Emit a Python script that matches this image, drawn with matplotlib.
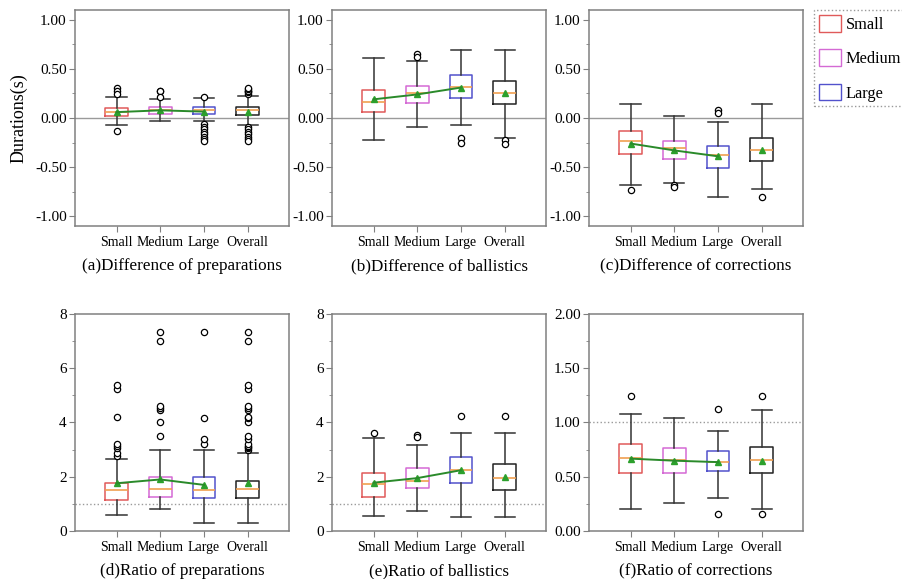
import matplotlib
matplotlib.use("Agg")
import matplotlib.pyplot as plt
from matplotlib.patches import Patch
from matplotlib.ticker import MultipleLocator, FormatStrFormatter

plt.rcParams['font.family'] = ['Liberation Serif', 'DejaVu Serif']

groups = ["Small", "Medium", "Large", "Overall"]

# per panel: quartiles, whisker ends, mean and outliers for each group
a_q1 = [0.017, 0.037, 0.040, 0.027]
a_med = [0.058, 0.080, 0.080, 0.080]
a_q3 = [0.098, 0.108, 0.108, 0.108]
a_lo = [-0.07, -0.034, -0.035, -0.07]
a_hi = [0.21, 0.19, 0.20, 0.22]
a_mean = [0.060, 0.078, 0.065, 0.060]
a_fl = [[0.31, 0.28, 0.24, -0.13],
        [0.28, 0.27, 0.21],
        [0.21, -0.06, -0.09, -0.11, -0.14, -0.16, -0.19, -0.21, -0.23],
        [0.24, 0.26, 0.27, 0.28, 0.30, 0.31, -0.09, -0.11, -0.14, -0.16, -0.19, -0.21, -0.23]]

b_q1 = [0.058, 0.15, 0.207, 0.14]
b_med = [0.167, 0.25, 0.32, 0.255]
b_q3 = [0.286, 0.33, 0.44, 0.38]
b_lo = [-0.225, -0.09, -0.068, -0.20]
b_hi = [0.61, 0.58, 0.69, 0.69]
b_mean = [0.19, 0.24, 0.31, 0.25]
b_fl = [[], [0.65, 0.62], [-0.20, -0.25], [-0.225, -0.26]]

c_q1 = [-0.37, -0.42, -0.51, -0.435]
c_med = [-0.235, -0.31, -0.38, -0.326]
c_q3 = [-0.136, -0.23, -0.29, -0.20]
c_lo = [-0.68, -0.66, -0.80, -0.72]
c_hi = [0.14, 0.017, -0.037, 0.14]
c_mean = [-0.26, -0.33, -0.39, -0.33]
c_fl = [[-0.73], [-0.68, -0.70], [0.08, 0.05], [-0.80]]

d_q1 = [1.14, 1.26, 1.20, 1.20]
d_med = [1.50, 1.55, 1.50, 1.53]
d_q3 = [1.78, 2.00, 1.98, 1.85]
d_lo = [0.60, 0.82, 0.30, 0.30]
d_hi = [2.66, 3.00, 3.00, 2.87]
d_mean = [1.76, 1.90, 1.70, 1.77]
d_fl = [[2.75, 2.87, 3.05, 3.14, 3.20, 4.20, 5.25, 5.40],
        [3.50, 4.00, 4.45, 4.55, 4.62, 7.00, 7.35],
        [3.20, 3.40, 4.15, 7.35],
        [2.98, 3.05, 3.10, 3.15, 3.20, 3.40, 3.50, 4.00, 4.15, 4.20,
         4.45, 4.55, 4.62, 5.25, 5.40, 7.00, 7.35]]

e_q1 = [1.26, 1.58, 1.78, 1.52]
e_med = [1.73, 1.85, 2.24, 1.94]
e_q3 = [2.14, 2.31, 2.72, 2.48]
e_lo = [0.56, 0.73, 0.52, 0.52]
e_hi = [3.42, 3.18, 3.60, 3.60]
e_mean = [1.78, 1.95, 2.24, 1.99]
e_fl = [[3.60], [3.55, 3.48], [4.23], [4.23]]

f_q1 = [0.53, 0.536, 0.55, 0.536]
f_med = [0.67, 0.654, 0.635, 0.65]
f_q3 = [0.80, 0.766, 0.735, 0.77]
f_lo = [0.20, 0.26, 0.30, 0.20]
f_hi = [1.08, 1.04, 0.92, 1.115]
f_mean = [0.667, 0.648, 0.635, 0.648]
f_fl = [[1.24], [], [1.12, 0.16], [1.24, 0.16]]

titles = ["(a)Difference of preparations", "(b)Difference of ballistics",
          "(c)Difference of corrections", "(d)Ratio of preparations",
          "(e)Ratio of ballistics", "(f)Ratio of corrections"]

box_colors = ["#e05a5a", "#d46ad4", "#5252cc", "#222222"]

panels = [
    (a_q1, a_med, a_q3, a_lo, a_hi, a_mean, a_fl),
    (b_q1, b_med, b_q3, b_lo, b_hi, b_mean, b_fl),
    (c_q1, c_med, c_q3, c_lo, c_hi, c_mean, c_fl),
    (d_q1, d_med, d_q3, d_lo, d_hi, d_mean, d_fl),
    (e_q1, e_med, e_q3, e_lo, e_hi, e_mean, e_fl),
    (f_q1, f_med, f_q3, f_lo, f_hi, f_mean, f_fl),
]

fig = plt.figure(figsize=(9.03, 5.79), dpi=100)
lefts = [0.0831, 0.3677, 0.6523]
rows = [(0.6097, 0.373), (0.0829, 0.3748)]
W = 0.237

for i, (q1, med, q3, lo, hi, mean, fl) in enumerate(panels):
    r, c = divmod(i, 3)
    ax = fig.add_axes([lefts[c], rows[r][0], W, rows[r][1]])
    stats = []
    for k, g in enumerate(groups):
        stats.append(dict(label=g, q1=q1[k], med=med[k], q3=q3[k],
                          whislo=lo[k], whishi=hi[k], mean=mean[k], fliers=fl[k]))
    pos = [1, 2, 3, 4]
    bp = ax.bxp(stats, positions=pos, widths=0.52, capwidths=0.46,
                showmeans=True, patch_artist=False,
                flierprops=dict(marker='o', markerfacecolor='white',
                                markeredgecolor='black', markersize=4.5, markeredgewidth=0.9),
                medianprops=dict(color='#f0a050', linewidth=1.2),
                meanprops=dict(marker='^', markerfacecolor='#2ca02c',
                               markeredgecolor='#2ca02c', markersize=5),
                whiskerprops=dict(color='#333333', linewidth=1.1),
                capprops=dict(color='#333333', linewidth=1.1))
    for k, b in enumerate(bp['boxes']):
        b.set_color(box_colors[k])
        b.set_linewidth(1.1)
    # mean trend across the three sizes
    ax.plot(pos[:3], mean[:3], color='#2a8a2a', linewidth=1.4, zorder=3)

    if r == 0:
        ax.axhline(0, color='#9a9a9a', linewidth=1.0, zorder=0)
        ax.set_ylim(-1.1, 1.1)
        ax.yaxis.set_major_locator(MultipleLocator(0.5))
        ax.yaxis.set_minor_locator(MultipleLocator(0.25))
        ax.yaxis.set_major_formatter(FormatStrFormatter('%.2f'))
    elif c < 2:
        ax.axhline(1, color='#9a9a9a', linewidth=1.0, linestyle=':', zorder=0)
        ax.set_ylim(0, 8)
        ax.yaxis.set_major_locator(MultipleLocator(2))
        ax.yaxis.set_minor_locator(MultipleLocator(1))
    else:
        ax.axhline(1, color='#9a9a9a', linewidth=1.0, linestyle=':', zorder=0)
        ax.set_ylim(0, 2.0)
        ax.yaxis.set_major_locator(MultipleLocator(0.5))
        ax.yaxis.set_minor_locator(MultipleLocator(0.25))
        ax.yaxis.set_major_formatter(FormatStrFormatter('%.2f'))

    ax.set_xlim(0.05, 4.95)
    ax.set_xticks(pos)
    ax.set_xticklabels(groups, fontsize=10)
    ax.tick_params(axis='y', labelsize=11, length=4, color='#808080', pad=2)
    ax.tick_params(axis='y', which='minor', length=2.5, color='#808080')
    ax.tick_params(axis='x', length=4, color='#808080', pad=3)
    for s in ax.spines.values():
        s.set_color('#808080')
        s.set_linewidth(1.1)
    ax.set_xlabel(titles[i], fontsize=12.3, labelpad=7)
    if i == 0:
        ax.set_ylabel("Durations(s)", fontsize=13, labelpad=5)

handles = [Patch(facecolor='white', edgecolor=box_colors[k], linewidth=1.0) for k in range(3)]
leg = fig.legend(handles, groups[:3], loc='upper left', bbox_to_anchor=(0.9014, 0.9827),
                 borderaxespad=0, fontsize=11.8, frameon=True, fancybox=False,
                 handlelength=1.35, handleheight=1.2, handletextpad=0.3,
                 labelspacing=1.0, borderpad=0.3)
leg.get_frame().set_edgecolor('#808080')
leg.get_frame().set_linestyle(':')
leg.get_frame().set_linewidth(1.0)

fig.savefig("out.png", dpi=100)
